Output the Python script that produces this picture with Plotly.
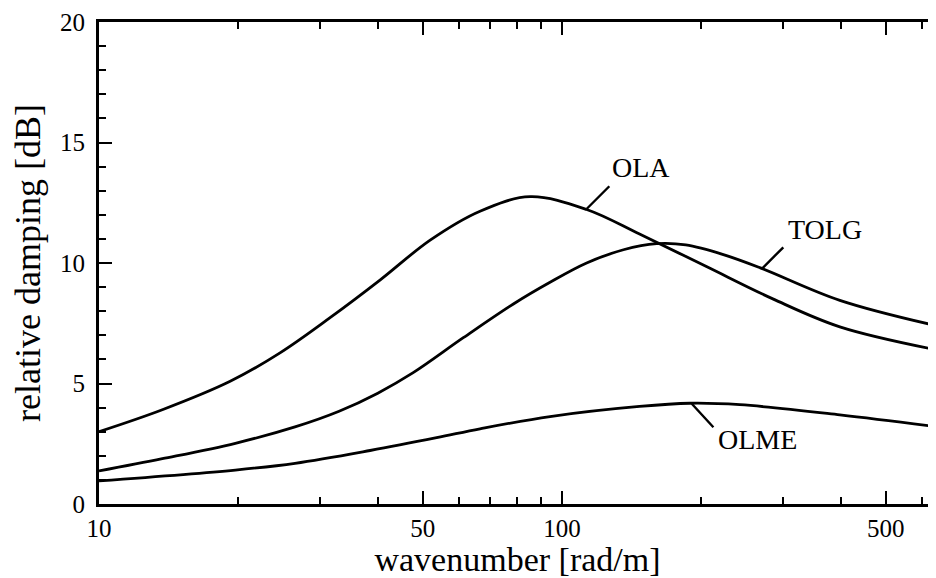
import numpy as np
import plotly.graph_objects as go

# ---- data ----
ola_k = [10, 13.7, 19.2, 24.6, 31.5, 40.5, 51.9, 66.5, 85.3, 113, 147, 205, 286, 398, 642]
ola_db = [3.0, 3.91, 5.09, 6.27, 7.72, 9.3, 10.95, 12.15, 12.75, 12.22, 11.2, 9.85, 8.5, 7.35, 6.4]

tolg_k = [10, 13.7, 19.7, 26.5, 33, 40, 47.7, 61.2, 78.5, 94.2, 113, 135.7, 160, 185, 223, 268, 398, 642]
tolg_db = [1.37, 1.88, 2.52, 3.2, 3.85, 4.6, 5.45, 6.9, 8.3, 9.2, 10.0, 10.55, 10.8, 10.75, 10.35, 9.8, 8.45, 7.4]

olme_k = [10, 19.7, 26.5, 38.5, 53.6, 66.5, 94.2, 147, 189, 242, 398, 642]
olme_db = [0.96, 1.41, 1.69, 2.22, 2.75, 3.12, 3.63, 4.05, 4.18, 4.12, 3.7, 3.21]

x_major = [10, 50, 100, 500]
x_minor = [20, 30, 40, 60, 70, 80, 90, 200, 300, 400, 600]
y_major = [0, 5, 10, 15, 20]

# label text anchor (data coords) and leader-line head on curve
labels = ["OLA", "TOLG", "OLME"]
label_k = [148, 370, 264]
label_db = [13.97, 11.39, 2.66]
leader_k = [113.1, 270, 190.6]
leader_db = [12.25, 9.76, 4.16]
leader_dx = [24, 23, 23]
leader_dy = [-24, -23, 25]

FONT = "Liberation Serif"

fig = go.Figure()
for k, d in [(ola_k, ola_db), (tolg_k, tolg_db), (olme_k, olme_db)]:
    fig.add_trace(go.Scatter(x=k, y=d, mode="lines",
                             line=dict(color="black", width=2.8, shape="spline", smoothing=1.0),
                             showlegend=False, hoverinfo="skip"))

for t, lk, ld, hk, hd, dx, dy in zip(labels, label_k, label_db, leader_k, leader_db, leader_dx, leader_dy):
    fig.add_annotation(x=np.log10(lk), y=ld, text=t, showarrow=False,
                       font=dict(family=FONT, size=28, color="black"))
    fig.add_annotation(x=np.log10(hk), y=hd, text="", showarrow=True, arrowhead=0,
                       arrowwidth=2.4, arrowcolor="black", ax=dx, ay=dy,
                       axref="pixel", ayref="pixel")

fig.update_xaxes(type="log", range=[1, np.log10(642)],
                 tickmode="array", tickvals=x_major, ticktext=[str(v) for v in x_major],
                 ticks="inside", ticklen=13, tickwidth=2, tickcolor="black",
                 minor=dict(tickmode="array", tickvals=x_minor, ticks="inside",
                            ticklen=7, tickwidth=2, tickcolor="black", showgrid=False),
                 showline=True, linewidth=3, linecolor="black", mirror="allticks",
                 showgrid=False, zeroline=False,
                 tickfont=dict(family=FONT, size=25, color="black"),
                 title=dict(text="wavenumber [rad/m]", standoff=8,
                            font=dict(family=FONT, size=34, color="black")))

fig.update_yaxes(range=[0, 20], tickmode="array", tickvals=y_major,
                 ticks="inside", ticklen=13, tickwidth=2, tickcolor="black",
                 ticklabelstandoff=6,
                 minor=dict(dtick=1, ticks="inside", ticklen=7, tickwidth=2,
                            tickcolor="black", showgrid=False),
                 showline=True, linewidth=3, linecolor="black", mirror=False,
                 showgrid=False, zeroline=False,
                 tickfont=dict(family=FONT, size=25, color="black"),
                 title=dict(text="relative damping [dB]", standoff=10,
                            font=dict(family=FONT, size=36, color="black")))

# the page adds an 8px body margin, so the figure is 8px smaller and shifted
fig.update_layout(width=928, height=570, margin=dict(l=91, r=0, t=14, b=74),
                  plot_bgcolor="white", paper_bgcolor="white",
                  font=dict(family=FONT, color="black"))

fig.write_html("out.html")
